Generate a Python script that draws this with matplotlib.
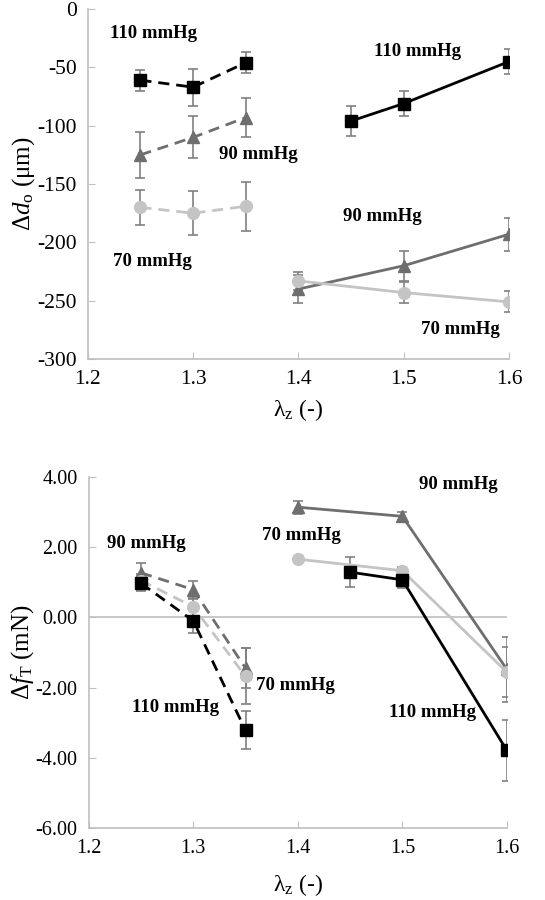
import matplotlib
matplotlib.use("Agg")
import matplotlib.pyplot as plt

plt.rcParams['font.family'] = ['Liberation Serif', 'DejaVu Serif']
plt.rcParams['mathtext.fontset'] = 'custom'
plt.rcParams['mathtext.rm'] = 'Liberation Serif'
plt.rcParams['mathtext.it'] = 'Liberation Serif:italic'
plt.rcParams['mathtext.bf'] = 'Liberation Serif:bold'
plt.rcParams['axes.unicode_minus'] = False

# lambda_z values
lam_dash = [1.25, 1.30, 1.35]
lam_110 = [1.45, 1.50, 1.60]
lam_solid = [1.40, 1.50, 1.60]

# top panel: delta d_o (um)
do_110_dash = [-61, -67, -46]
do_110_dash_err = [9, 16, 9]
do_90_dash = [-125, -110, -93]
do_90_dash_err = [20, 18, 17]
do_70_dash = [-170, -175, -169]
do_70_dash_err = [15, 19, 21]
do_110 = [-96, -81, -45]
do_110_err = [13, 11, 11]
do_90 = [-240, -220, -193]
do_90_err = [12, 13, 14]
do_70 = [-233, -243, -251]
do_70_err = [8, 9, 9]

# bottom panel: delta f_T (mN)
ft_110_dash = [0.97, -0.10, -3.22]
ft_110_dash_err = [0.22, 0.34, 0.54]
ft_90_dash = [1.27, 0.79, -1.45]
ft_90_dash_err = [0.27, 0.26, 0.57]
ft_70_dash = [1.05, 0.30, -1.68]
ft_70_dash_err = [0.20, 0.25, 0.80]
ft_110 = [1.29, 1.07, -3.79]
ft_110_err = [0.43, 0.22, 0.86]
ft_90 = [3.14, 2.88, -1.48]
ft_90_err = [0.18, 0.11, 0.93]
ft_70 = [1.66, 1.33, -1.56]
ft_70_err = [0.05, 0.10, 0.72]

c110 = '#000000'
c90 = '#6e6e6e'
c70 = '#c4c4c4'
errc = '#808080'
axc = '#bfbfbf'

fig = plt.figure(figsize=(5.45, 9), dpi=100)
ax1 = fig.add_axes([0.161, 0.601, 0.773, 0.389])
ax2 = fig.add_axes([0.163, 0.080, 0.767, 0.390])


def series(ax, x, y, e, color, marker, ms, dashed):
    ls = (0, (4, 2.5)) if dashed else '-'
    ax.errorbar(x, y, yerr=e, color=color, ecolor=errc, elinewidth=1.2,
                capsize=3.5, capthick=1.2, marker=marker, markersize=ms,
                linestyle=ls, linewidth=2, zorder=3)


def style(ax, fs):
    for s in ['top', 'right']:
        ax.spines[s].set_visible(False)
    for s in ['left', 'bottom']:
        ax.spines[s].set_color(axc)
        ax.spines[s].set_linewidth(1.2)
    ax.tick_params(direction='in', length=5, color=axc, labelsize=fs, pad=8)
    ax.set_xlim(1.2, 1.6)
    ax.set_xticks([1.2, 1.3, 1.4, 1.5, 1.6])
    ax.set_xticklabels(['1.2', '1.3', '1.4', '1.5', '1.6'])


lab = dict(fontsize=13.5, fontweight='bold', ha='center', va='center')

# top panel
series(ax1, lam_dash, do_110_dash, do_110_dash_err, c110, 's', 8.5, True)
series(ax1, lam_dash, do_90_dash, do_90_dash_err, c90, '^', 8.5, True)
series(ax1, lam_dash, do_70_dash, do_70_dash_err, c70, 'o', 8.5, True)
series(ax1, lam_110, do_110, do_110_err, c110, 's', 8.5, False)
series(ax1, lam_solid, do_90, do_90_err, c90, '^', 8.5, False)
series(ax1, lam_solid, do_70, do_70_err, c70, 'o', 8.5, False)
style(ax1, 15.5)
ax1.set_ylim(-300, 0)
ax1.set_yticks(range(-300, 1, 50))
ax1.set_xlabel(r'$\mathrm{\lambda}_\mathrm{z}$ (-)', fontsize=17, labelpad=6)
ax1.set_ylabel(r'$\mathrm{\Delta}d_\mathrm{o}$ (μm)', fontsize=18, labelpad=0)
ax1.text(1.2627, -20.6, '110 mmHg', **lab)
ax1.text(1.5135, -36, '110 mmHg', **lab)
ax1.text(1.3615, -124.3, '90 mmHg', **lab)
ax1.text(1.480, -177.4, '90 mmHg', **lab)
ax1.text(1.2618, -216, '70 mmHg', **lab)
ax1.text(1.5534, -274.3, '70 mmHg', **lab)

# bottom panel
ax2.axhline(0, color=axc, linewidth=1.2, zorder=1)
series(ax2, lam_dash, ft_90_dash, ft_90_dash_err, c90, '^', 8.5, True)
series(ax2, lam_dash, ft_70_dash, ft_70_dash_err, c70, 'o', 8.5, True)
series(ax2, lam_dash, ft_110_dash, ft_110_dash_err, c110, 's', 8.5, True)
series(ax2, lam_solid, ft_90, ft_90_err, c90, '^', 8.5, False)
series(ax2, lam_solid, ft_70, ft_70_err, c70, 'o', 8.5, False)
series(ax2, lam_110, ft_110, ft_110_err, c110, 's', 8.5, False)
style(ax2, 14.5)
ax2.set_ylim(-6, 4)
ax2.set_yticks([-6, -4, -2, 0, 2, 4])
ax2.set_yticklabels(['-6.00', '-4.00', '-2.00', '0.00', '2.00', '4.00'])
ax2.set_xlabel(r'$\mathrm{\lambda}_\mathrm{z}$ (-)', fontsize=17, labelpad=10)
ax2.set_ylabel(r'$\mathrm{\Delta}f_\mathrm{T}$ (mN)', fontsize=18, labelpad=0)
ax2.text(1.5534, 3.78, '90 mmHg', **lab)
ax2.text(1.4034, 2.33, '70 mmHg', **lab)
ax2.text(1.255, 2.11, '90 mmHg', **lab)
ax2.text(1.398, -1.95, '70 mmHg', **lab)
ax2.text(1.2832, -2.57, '110 mmHg', **lab)
ax2.text(1.5288, -2.70, '110 mmHg', **lab)

fig.savefig('out.png', dpi=100)
